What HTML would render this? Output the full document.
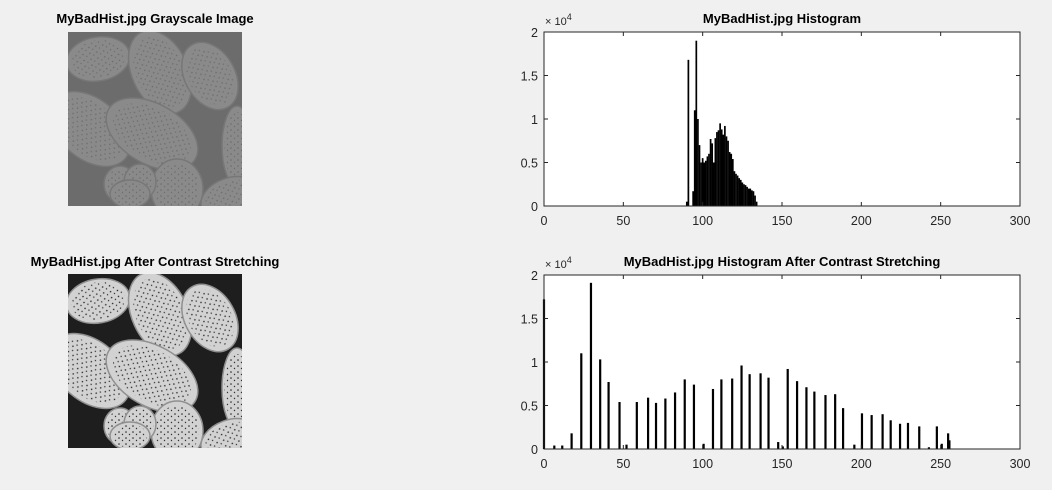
<!DOCTYPE html>
<html><head><meta charset="utf-8"><style>
body{margin:0;background:#f0f0f0;font-family:"Liberation Sans",Arial,sans-serif;}
svg{display:block}
text{font-family:"Liberation Sans",Arial,sans-serif;}
</style></head><body>
<svg id="fig" width="1052" height="490">
<defs>
<pattern id="speckD" width="7" height="6" patternUnits="userSpaceOnUse"><circle cx="2" cy="2" r="0.8" fill="#222"/><circle cx="5.5" cy="4.5" r="0.7" fill="#333"/></pattern>
<pattern id="speckL" width="7" height="6" patternUnits="userSpaceOnUse"><circle cx="2" cy="2" r="0.8" fill="#6a6a6a"/><circle cx="5.5" cy="4.5" r="0.7" fill="#6e6e6e"/></pattern>
</defs>
<text x="155" y="23" text-anchor="middle" font-size="13" font-weight="bold">MyBadHist.jpg Grayscale Image</text>
<text x="155" y="266" text-anchor="middle" font-size="13" font-weight="bold">MyBadHist.jpg After Contrast Stretching</text>
<g id="img1" transform="translate(68,32)"></g>
<g id="img2" transform="translate(68,274)"></g>
<g id="h1"></g>
<g id="h2"></g>
</svg>
<script>
const NS="http://www.w3.org/2000/svg";
function mk(p,t,a){const e=document.createElementNS(NS,t);for(const k in a)e.setAttribute(k,a[k]);p.appendChild(e);return e;}
const blobs=[[30,27,32,22,-10],[92,40,28,44,-25],[142,44,25,36,-30],[22,97,30,46,-50],[84,102,50,30,30],[169,114,15,40,0],[109,157,26,30,0],[162,166,30,20,-20],[52,152,16,18,0],[72,150,16,18,0],[62,162,20,14,0]];
function drawImg(g,bg,fill,edge,speck,clip){
  const cp=mk(g,'clipPath',{id:clip});mk(cp,'rect',{x:0,y:0,width:174,height:174});
  const inner=mk(g,'g',{'clip-path':'url(#'+clip+')'});
  mk(inner,'rect',{x:0,y:0,width:174,height:174,fill:bg});
  blobs.forEach(b=>{
    const t='rotate('+b[4]+' '+b[0]+' '+b[1]+')';
    mk(inner,'ellipse',{cx:b[0],cy:b[1],rx:b[2],ry:b[3],fill:fill,stroke:edge,'stroke-width':1.5,transform:t});
    mk(inner,'ellipse',{cx:b[0],cy:b[1],rx:b[2]*0.85,ry:b[3]*0.85,fill:'url(#'+speck+')',transform:t});
  });
}
drawImg(document.getElementById('img1'),'#6c6c6c','#8a8a8a','#777','speckL','c1');
drawImg(document.getElementById('img2'),'#1e1e1e','#d2d2d2','#909090','speckD','c2');

const xTicks=[0,50,100,150,200,250,300];
const yTicks=[0,0.5,1,1.5,2];
const yTickLabels=['0','0.5','1','1.5','2'];
const origBins=[90,91,92,93,94,95,96,97,98,99,100,101,102,103,104,105,106,107,108,109,110,111,112,113,114,115,116,117,118,119,120,121,122,123,124,125,126,127,128,129,130,131,132,133,134];
const origCounts=[0.05,1.68,0,0,0.17,1.1,1.9,1.0,0.7,0.5,0.55,0.5,0.52,0.57,0.6,0.77,0.72,0.5,0.78,0.85,0.87,0.95,0.88,0.82,0.92,0.80,0.75,0.62,0.60,0.54,0.40,0.37,0.35,0.32,0.30,0.27,0.25,0.24,0.22,0.20,0.20,0.18,0.17,0.12,0.05];
const strBins=[0,6.5,11.5,17.4,23.5,29.6,35.4,40.7,47.6,52,58.5,65.6,70.6,76.5,82.6,88.7,94.5,100.6,106.5,111.8,118.6,124.5,129.6,136.5,141.5,147.6,150.5,153.6,159.5,165.4,170.4,177.4,183.5,188.5,195.6,200.4,206.5,213.4,218.5,224.4,229.4,236.5,242.6,247.6,250.7,254.7,255.5];
const strCounts=[1.72,0.04,0.04,0.18,1.1,1.91,1.03,0.77,0.54,0.05,0.54,0.59,0.53,0.58,0.65,0.80,0.74,0.06,0.69,0.80,0.81,0.96,0.86,0.87,0.82,0.08,0.03,0.92,0.78,0.71,0.66,0.62,0.63,0.47,0.05,0.41,0.39,0.40,0.33,0.29,0.30,0.26,0.02,0.26,0.06,0.18,0.10];

function hist(gid,top,title,bins,counts,bw){
  const g=document.getElementById(gid);
  const L=544,R=1020,T=top,B=top+174;
  const xs=v=>L+(v/300)*(R-L), ys=v=>B-(v/2)*(B-T);
  const t=mk(g,'text',{x:782,y:top-9,'text-anchor':'middle','font-size':13,'font-weight':'bold'});t.textContent=title;
  
  
  const bg=mk(g,'rect',{x:L,y:T,width:R-L,height:B-T,fill:'#fff'});
  
  
  bins.forEach((b,i)=>{
    const r=mk(g,'rect',{x:xs(b)-bw/2,y:ys(counts[i]),width:bw,height:B-ys(counts[i]),fill:'#000'});
    
    
  });
  mk(g,'rect',{x:L,y:T,width:R-L,height:B-T,fill:'none',stroke:'#262626','stroke-width':1});
  xTicks.forEach(v=>{
    const x=xs(v);
    mk(g,'line',{x1:x,x2:x,y1:B,y2:B-4,stroke:'#262626'});
    mk(g,'line',{x1:x,x2:x,y1:T,y2:T+4,stroke:'#262626'});
    const tl=mk(g,'text',{x:x,y:B+19,'text-anchor':'middle','font-size':12.5,fill:'#262626'});tl.textContent=v;
    
    
  });
  yTicks.forEach((v,i)=>{
    const y=ys(v);
    mk(g,'line',{x1:L,x2:L+4,y1:y,y2:y,stroke:'#262626'});
    mk(g,'line',{x1:R,x2:R-4,y1:y,y2:y,stroke:'#262626'});
    const tl=mk(g,'text',{x:L-6,y:y+5,'text-anchor':'end','font-size':12.5,fill:'#262626'});tl.textContent=yTickLabels[i];
    
    
  });
  const ex=mk(g,'text',{x:L+1,y:T-7,'font-size':11,fill:'#262626'});
  
  
  ex.innerHTML='× 10<tspan dy="-5" font-size="9">4</tspan>';
}
hist('h1',32,'MyBadHist.jpg Histogram',origBins,origCounts,1.7);
hist('h2',275,'MyBadHist.jpg Histogram After Contrast Stretching',strBins,strCounts,2.2);
</script>
</body></html>
